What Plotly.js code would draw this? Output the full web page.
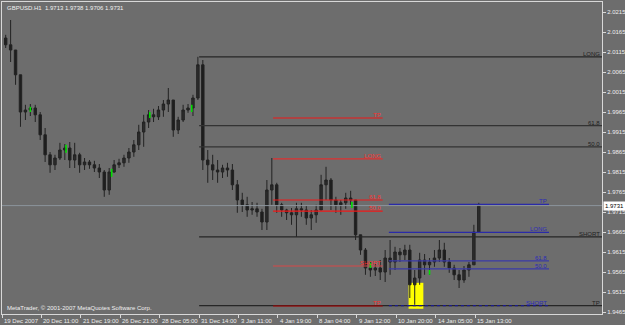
<!DOCTYPE html>
<html><head><meta charset="utf-8">
<script src="https://cdn.plot.ly/plotly-3.0.1.min.js"></script>
<style>html,body{margin:0;padding:0;background:#6d6d6d;}#chart{width:625px;height:325px;}</style>
</head><body><div id="chart"></div>
<script>
// ---- data ----
const symbol = 'GBPUSD.H1';
const lastBar = [1.9713, 1.9738, 1.9706, 1.9731]; // O H L C of last hourly bar
// candle position = hourly bar index (4-hour groups)
const bars = [3,7,11,15,19,23,27,31,35,39,
  43,47,51,55,59,63,67,71,75,79,
  83,87,91,95,99,103,107,111,115,119,
  123,127,131,135,139,143,147,151,155,159,
  163,167,171,175,179,183,187,191,195,199,
  203,207,211,215,219,223,227,231,235,239,
  243,247,251,255,259,263,267,271,275,279,
  283,287,291,295,299,303,307,311,315,319,
  323,327,331,335,339,343,347,351,355,359,
  363,367,371,375,379,383,387];
const opens = [2.0150,2.0133,2.0120,2.0058,1.9965,1.9970,1.9975,1.9958,1.9908,1.9858,
  1.9833,1.9850,1.9870,1.9875,1.9845,1.9858,1.9833,1.9840,1.9833,1.9825,
  1.9815,1.9770,1.9815,1.9833,1.9838,1.9850,1.9865,1.9883,1.9915,1.9940,
  1.9958,1.9953,1.9970,1.9985,1.9995,1.9920,1.9945,1.9970,1.9975,2.0000,
  2.0083,1.9845,1.9833,1.9820,1.9815,1.9825,1.9820,1.9783,1.9745,1.9733,
  1.9720,1.9723,1.9715,1.9690,1.9770,1.9783,1.9733,1.9720,1.9713,1.9708,
  1.9723,1.9720,1.9700,1.9708,1.9720,1.9783,1.9795,1.9745,1.9733,1.9738,
  1.9750,1.9745,1.9658,1.9620,1.9575,1.9570,1.9575,1.9565,1.9600,1.9590,
  1.9615,1.9608,1.9620,1.9533,1.9550,1.9595,1.9583,1.9590,1.9600,1.9620,
  1.9590,1.9575,1.9558,1.9545,1.9570,1.9583,1.9665];
const highs = [2.0158,2.0195,2.0120,2.0058,1.9983,1.9985,1.9983,1.9965,1.9925,1.9865,
  1.9858,1.9888,1.9885,1.9890,1.9888,1.9863,1.9850,1.9845,1.9843,1.9835,
  1.9820,1.9825,1.9845,1.9848,1.9858,1.9875,1.9895,1.9933,1.9958,1.9970,
  1.9973,1.9980,1.9995,2.0025,1.9995,1.9953,1.9983,1.9985,2.0008,2.0103,
  2.0095,1.9870,1.9858,1.9845,1.9833,1.9838,1.9835,1.9795,1.9763,1.9753,
  1.9740,1.9738,1.9723,1.9795,1.9850,1.9788,1.9738,1.9723,1.9725,1.9738,
  1.9738,1.9730,1.9720,1.9733,1.9808,1.9828,1.9800,1.9753,1.9745,1.9763,
  1.9768,1.9745,1.9658,1.9625,1.9590,1.9585,1.9595,1.9620,1.9645,1.9628,
  1.9625,1.9633,1.9633,1.9570,1.9613,1.9610,1.9600,1.9620,1.9645,1.9638,
  1.9600,1.9583,1.9570,1.9580,1.9590,1.9683,1.9738];
const lows = [2.0125,2.0090,2.0033,1.9928,1.9945,1.9955,1.9940,1.9895,1.9840,1.9813,
  1.9820,1.9845,1.9845,1.9825,1.9825,1.9813,1.9820,1.9823,1.9815,1.9800,
  1.9753,1.9758,1.9813,1.9825,1.9828,1.9838,1.9853,1.9870,1.9878,1.9925,
  1.9940,1.9945,1.9953,1.9965,1.9903,1.9910,1.9940,1.9963,1.9955,1.9995,
  1.9820,1.9788,1.9795,1.9788,1.9800,1.9803,1.9770,1.9713,1.9715,1.9703,
  1.9708,1.9703,1.9670,1.9670,1.9733,1.9713,1.9703,1.9695,1.9683,1.9653,
  1.9703,1.9683,1.9670,1.9688,1.9720,1.9745,1.9720,1.9713,1.9708,1.9723,
  1.9733,1.9645,1.9608,1.9558,1.9553,1.9555,1.9545,1.9540,1.9558,1.9570,
  1.9590,1.9595,1.9500,1.9483,1.9533,1.9558,1.9558,1.9578,1.9590,1.9578,
  1.9563,1.9545,1.9525,1.9538,1.9553,1.9583,1.9665];
const closes = [2.0133,2.0120,2.0058,1.9965,1.9970,1.9975,1.9958,1.9908,1.9858,1.9833,
  1.9850,1.9870,1.9875,1.9845,1.9858,1.9833,1.9840,1.9833,1.9825,1.9815,
  1.9770,1.9815,1.9833,1.9838,1.9850,1.9865,1.9883,1.9915,1.9940,1.9958,
  1.9953,1.9970,1.9985,1.9995,1.9920,1.9945,1.9970,1.9975,2.0000,2.0083,
  1.9845,1.9833,1.9820,1.9815,1.9825,1.9820,1.9783,1.9745,1.9733,1.9720,
  1.9723,1.9715,1.9690,1.9770,1.9783,1.9733,1.9720,1.9713,1.9708,1.9723,
  1.9720,1.9700,1.9708,1.9720,1.9783,1.9795,1.9745,1.9733,1.9738,1.9750,
  1.9745,1.9658,1.9620,1.9575,1.9570,1.9575,1.9565,1.9600,1.9590,1.9615,
  1.9608,1.9620,1.9533,1.9550,1.9595,1.9583,1.9590,1.9600,1.9620,1.9590,
  1.9575,1.9558,1.9545,1.9570,1.9583,1.9665,1.9731];

// green indicator marks
const markBars = [23, 52, 89, 120, 154, 284, 299, 347];
const markLow  = [1.9965,1.9863,1.9803,1.9950,1.9965,1.9725,1.9575,1.9558];
const markHigh = [1.9978,1.9883,1.9823,1.9965,1.9983,1.9740,1.9588,1.9570];

// level sets
const viewBars = [0, 487];
const blackNames  = ['LONG','61.8','50.0','SHORT','TP'];
const blackPrices = [2.0103,1.9931,1.9878,1.9653,1.9481];
const blackBars   = [160, 487];
const redNames  = ['TP','LONG','61.8','50.0','SHORT','TP'];
const redPrices = [1.9950,1.9848,1.9745,1.9717,1.9580,1.9480];
const redBars   = [220, 309];
const blueNames  = ['TP','LONG','61.8','50.0','SHORT'];
const bluePrices = [1.9734,1.9664,1.9593,1.9573,1.9481];
const blueBars   = [314, 444];

const highlightBars   = [330, 342];
const highlightPrices = [1.9473, 1.9538];

const tickBars = [0,32,64,96,128,160,192,224,256,288,320,352,384];
const tickLabels = ['19 Dec 2007','20 Dec 11:00','21 Dec 19:00','26 Dec 21:00','28 Dec 05:00',
  '31 Dec 14:00','3 Jan 11:00','4 Jan 19:00','8 Jan 04:00','9 Jan 12:00','10 Jan 20:00',
  '14 Jan 05:00','15 Jan 13:00'];
const priceTicks = [2.0215,2.0165,2.0115,2.0065,2.0015,1.9965,1.9915,1.9865,1.9815,1.9765,
  1.9715,1.9665,1.9615,1.9565,1.9515,1.9465];

// ---- drawing ----
const FONT = 'Liberation Sans, Arial, sans-serif';
const traces = [];
const annotations = [];

function addLevels(names, prices, span, colors, textColor, dashes) {
  names.forEach((n, i) => {
    traces.push({type:'scatter', mode:'lines', x:[span[0], span[1]], y:[prices[i], prices[i]],
      line:{color: colors[i], width: 1.2, dash: dashes ? dashes[i] : 'solid'}, hoverinfo:'skip', showlegend:false});
    annotations.push({x: span[1], y: prices[i], xref:'x', yref:'y', text: n, showarrow:false,
      xanchor:'right', yanchor:'bottom', yshift:-2, font:{family:FONT, size:6, color:textColor}});
  });
}

// current price line
traces.push({type:'scatter', mode:'lines', x:viewBars, y:[lastBar[3], lastBar[3]],
  line:{color:'#8c949c', width:1}, hoverinfo:'skip', showlegend:false});

addLevels(blackNames, blackPrices, blackBars, ['#262626','#333','#333','#262626','#262626'], '#1e1e1e');
addLevels(redNames, redPrices, redBars, ['#f01818','#e03030','#f01818','#f01818','#d84848','#b00000'], '#ff3030');
addLevels(blueNames, bluePrices, blueBars, ['#2a2aa8','#2a2aa8','#3a3aa8','#3a3aa8','#1a1a90'], '#2a2ab8',
  ['solid','solid','solid','solid','dot']);

traces.push({type:'candlestick', x:bars, open:opens, high:highs, low:lows, close:closes,
  increasing:{line:{color:'#222222', width:1}, fillcolor:'#2c2c2c'},
  decreasing:{line:{color:'#222222', width:1}, fillcolor:'#1e1e1e'},
  whiskerwidth:0, hoverinfo:'skip', showlegend:false});

const mx = [], my = [];
markBars.forEach((b, i) => { mx.push(b, b, null); my.push(markLow[i], markHigh[i], null); });
traces.push({type:'scatter', mode:'lines', x:mx, y:my, line:{color:'#00e000', width:1.6},
  hoverinfo:'skip', showlegend:false});

// x-axis labels, left-aligned to the right of each tick as in MetaTrader
tickBars.forEach((b, i) => {
  annotations.push({xref:'x', yref:'paper', x:b, y:0, xanchor:'left', yanchor:'top', xshift:0, yshift:-2,
    text: tickLabels[i], showarrow:false, font:{family:FONT, size:6, color:'#eeeeee'}});
});

annotations.push({xref:'paper', yref:'paper', x:0, y:1, xanchor:'left', yanchor:'top', xshift:3, yshift:-1,
  text: symbol + '  ' + lastBar.map(v => v.toFixed(4)).join(' '), showarrow:false,
  font:{family:FONT, size:6, color:'#f0f0f0'}});
annotations.push({xref:'paper', yref:'paper', x:0, y:0, xanchor:'left', yanchor:'bottom', xshift:3, yshift:1,
  text:'MetaTrader, © 2001-2007 MetaQuotes Software Corp.', showarrow:false,
  font:{family:FONT, size:6, color:'#f0f0f0'}});
annotations.push({xref:'paper', yref:'y', x:1, y:lastBar[3], xanchor:'left', yanchor:'middle', xshift:1,
  text: lastBar[3].toFixed(4), showarrow:false, bgcolor:'#ffffff', borderpad:1,
  font:{family:FONT, size:6, color:'#000'}});

const layout = {
  width:625, height:325,
  paper_bgcolor:'#6d6d6d', plot_bgcolor:'#6d6d6d',
  margin:{l:2, r:23, t:2, b:11, pad:0},
  showlegend:false,
  xaxis:{range:viewBars, tickvals:tickBars, showticklabels:false, ticks:'outside', ticklen:3,
    tickcolor:'#d8d8d8', showline:true, mirror:true, linecolor:'#d8d8d8', linewidth:1,
    showgrid:false, zeroline:false, rangeslider:{visible:false}, fixedrange:true},
  yaxis:{side:'right', range:[1.9460, 2.0240], tickvals:priceTicks, ticktext:priceTicks.map(v => v.toFixed(4)),
    ticks:'outside', ticklen:3, tickcolor:'#d8d8d8', showline:true, mirror:true, linecolor:'#d8d8d8',
    linewidth:1, showgrid:false, zeroline:false, tickfont:{family:FONT, size:6, color:'#eeeeee'}, fixedrange:true},
  shapes:[{type:'rect', xref:'x', yref:'y', x0:highlightBars[0], x1:highlightBars[1],
    y0:highlightPrices[0], y1:highlightPrices[1], fillcolor:'#ffff00', line:{width:0}, layer:'below'}],
  annotations: annotations
};

Plotly.newPlot('chart', traces, layout, {displayModeBar:false, staticPlot:true});
</script>
</body></html>
